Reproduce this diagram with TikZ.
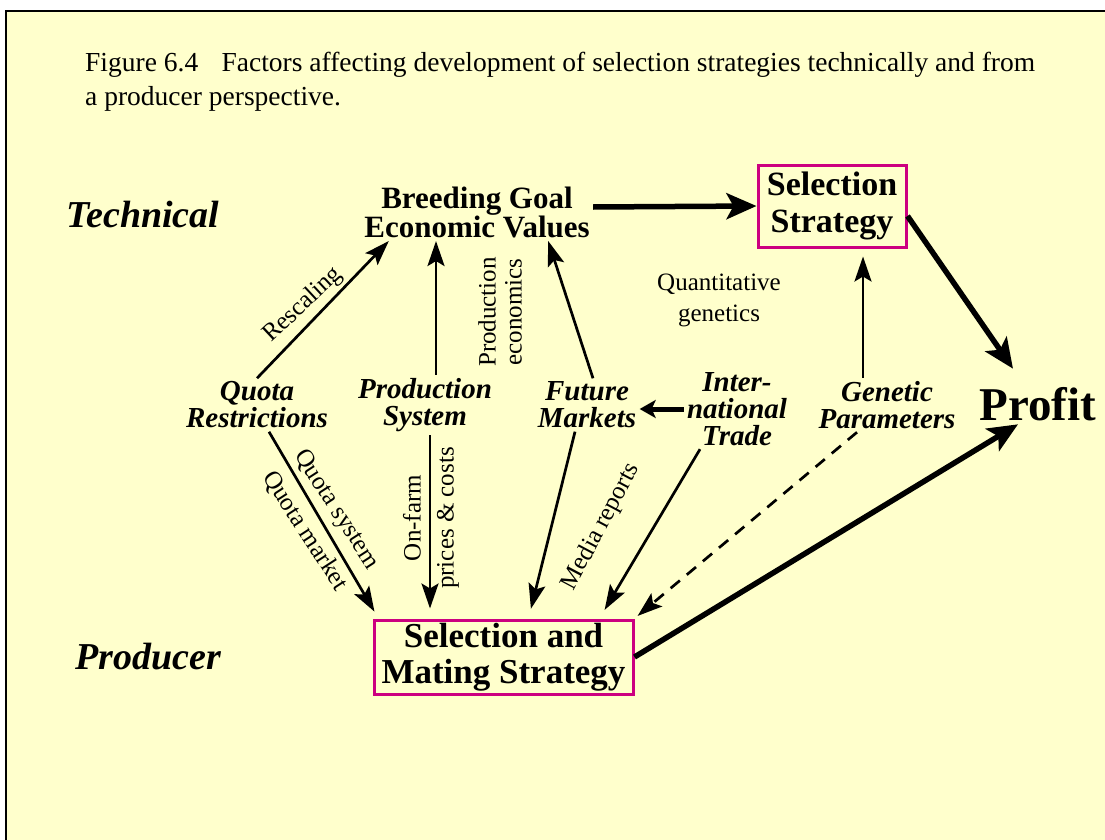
\documentclass[tikz,border=0pt]{standalone}
\usepackage{fontspec}
\setmainfont{Liberation Serif}
\usetikzlibrary{arrows.meta}

\definecolor{paleyellow}{RGB}{255,255,204}
\definecolor{boxpink}{RGB}{204,0,128}

\tikzset{
  caption/.style={font=\fontsize{27.5}{34}\selectfont, align=left, inner sep=0pt},
  side/.style={font=\fontsize{38}{40}\selectfont\bfseries\itshape},
  factor/.style={font=\fontsize{29}{27}\selectfont\bfseries\itshape, align=center},
  goalbox/.style={font=\fontsize{31}{29}\selectfont\bfseries, align=center},
  stratbox/.style={draw=boxpink, line width=3pt, align=center, inner sep=0pt,
                   font=\fontsize{34}{37}\selectfont\bfseries},
  edgelabel/.style={font=\fontsize{25}{30}\selectfont, align=center, inner sep=1pt},
  thinarrow/.style={line width=2.7pt, -{Stealth[length=25pt, width=17pt, inset=5pt]}},
  thickarrow/.style={line width=5.5pt, -{Stealth[length=30pt, width=26pt, inset=7pt]}},
  shortarrow/.style={line width=5pt, -{Stealth[length=16pt, width=18pt, inset=4pt]}},
}

\begin{document}
\begin{tikzpicture}[x=1pt, y=-1pt]
	\useasboundingbox (0,0) rectangle (1105,840);
	\fill[white] (0,0) rectangle (1105,840);
	\filldraw[fill=paleyellow, draw=black, line width=2pt] (6,11) rectangle (1140,880);

	\node[caption, anchor=north west] (title) at (85,52)
		{Figure 6.4\hspace{0.6em} Factors affecting development of selection strategies technically and from\\
		 a producer perspective.};

	\node[side] (technical) at (143,215) {Technical};
	\node[side] (producer) at (148,657) {Producer};

	\node[goalbox] (goal) at (477,212) {Breeding Goal\\Economic Values};
	\node[stratbox, minimum width=148pt, minimum height=82pt] (selstrat) at (832,206) {Selection\\Strategy};
	\node[stratbox, font=\fontsize{35}{36}\selectfont\bfseries, minimum width=259pt, minimum height=74pt]
		(matestrat) at (503.5,657) {Selection and\\Mating Strategy};
	\node[font=\fontsize{47}{50}\selectfont\bfseries] (profit) at (1038,404) {Profit};

	\node[factor] (quota) at (257,405) {Quota\\Restrictions};
	\node[factor] (prodsys) at (425,405) {Production\\System};
	\node[factor] (future) at (587,405) {Future\\Markets};
	\node[factor] (trade) at (737,409) {Inter-\\national\\Trade};
	\node[factor] (genetic) at (887,405) {Genetic\\Parameters};

	\node[edgelabel, font=\fontsize{25}{31}\selectfont] (quant) at (719,300) {Quantitative\\genetics};
	\node[edgelabel, rotate=43] (rescale) at (303,305) {Rescaling};
	\node[edgelabel, rotate=90, font=\fontsize{25}{26}\selectfont] (proecon) at (500,312) {Production\\economics};
	\node[edgelabel, rotate=-57] (quotasys) at (336,510) {Quota system};
	\node[edgelabel, rotate=-57] (quotamkt) at (305,531) {Quota market};
	\node[edgelabel, rotate=90, font=\fontsize{25}{33}\selectfont] (onfarm) at (431,518) {On-farm\\prices \& costs};
	\node[edgelabel, rotate=62] (media) at (601,527) {Media reports};

	\begin{scope}[thickarrow]
		\draw ([yshift=5pt]goal.east) -- (selstrat.west);
		\draw ([yshift=-10pt]selstrat.east) -- ([xshift=-25pt, yshift=15pt]profit.north);
		\draw (matestrat.east) -- ([xshift=-20pt]profit.south);
	\end{scope}

	\begin{scope}[thinarrow]
		\draw (quota.north) -- ([xshift=28pt]goal.south west);
		\draw ([xshift=11pt]prodsys.north) -- ([xshift=11pt]prodsys.north |- goal.south);
		\draw ([xshift=6pt]future.north) -- ([xshift=-45pt]goal.south east);
		\draw[shorten >=8pt] ([xshift=-24pt]genetic.north) -- ([xshift=-24pt]genetic.north |- selstrat.south);

		\draw[shorten >=8pt] ([xshift=12pt]quota.south) -- ([xshift=6pt]matestrat.north west);
		\draw[shorten >=10pt] ([xshift=5pt]prodsys.south) -- ([xshift=5pt]prodsys.south |- matestrat.north);
		\draw[shorten >=10pt] ([xshift=-12pt]future.south) -- ([xshift=25pt]matestrat.north);
		\draw[shorten >=10pt] ([xshift=-37pt]trade.south) -- ([xshift=96pt]matestrat.north);
		\draw[shorten >=4pt, dash pattern=on 12pt off 9pt] ([xshift=-30pt]genetic.south) -- (matestrat.north east);
	\end{scope}

	\draw[shortarrow] (trade.west) -- (trade.west -| future.east);
\end{tikzpicture}
\end{document}
